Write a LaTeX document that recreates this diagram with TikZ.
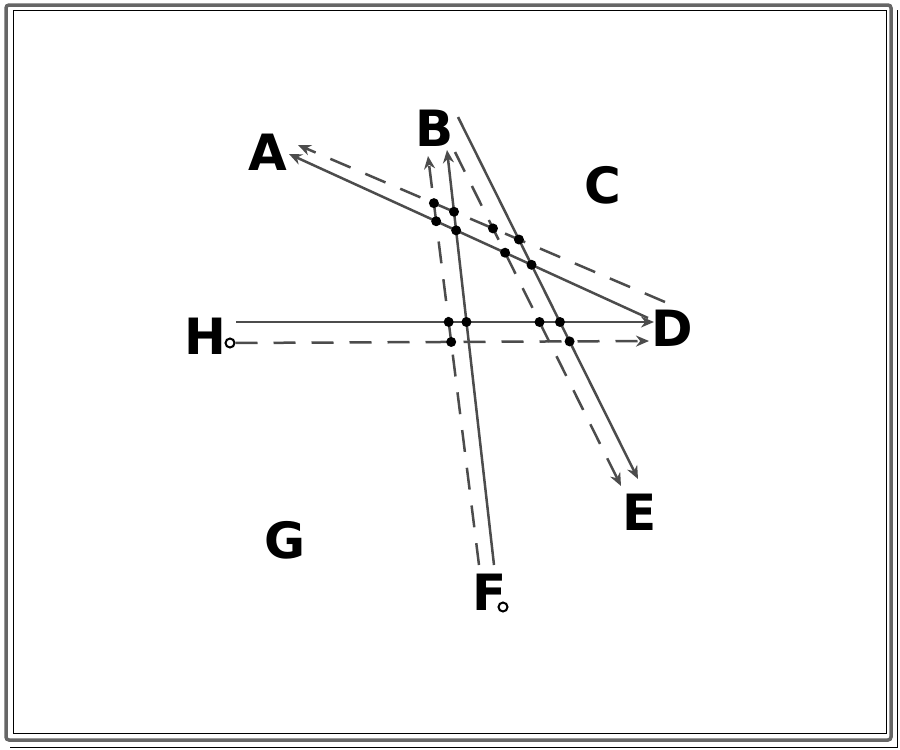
\documentclass[tikz,border=0pt]{standalone}
\usepackage{fontspec}
\setmainfont{DejaVu Sans}
\usetikzlibrary{arrows.meta}
\begin{document}
\begin{tikzpicture}[x=1pt,y=-1pt,
    lane/.style={line width=2.5pt,black!70,-{Stealth[length=13pt,width=11pt]}},
    lanedash/.style={lane,dash pattern=on 22pt off 16pt},
    dot/.style={circle,fill=black,inner sep=0pt,minimum size=10pt},
    ring/.style={circle,draw=black,fill=white,line width=2pt,inner sep=0pt,minimum size=9pt},
    lbl/.style={font=\fontsize{50}{50}\selectfont\bfseries,inner sep=0pt}]
    \useasboundingbox (0,0) rectangle (900,750);

    % frame
    \draw[line width=3.5pt,black!60,rounded corners=3pt] (6,5) rectangle (891,740);
    \draw[line width=1pt] (13,10) rectangle (886,733);
    \draw[line width=1pt] (897,10) -- (897,747) -- (10,747);

    % labels
    \node[lbl] (A) at (268,152) {A};
    \node[lbl] (B) at (435,128) {B};
    \node[lbl] (C) at (603,185) {C};
    \node[lbl] (D) at (672,328) {D};
    \node[lbl] (E) at (640,512) {E};
    \node[lbl] (F) at (490,592) {F};
    \node[lbl] (G) at (285,540) {G};
    \node[lbl] (H) at (205,336) {H};

    % lane ends
    \coordinate (hs) at (236,322);  \coordinate (dS) at (654,322);
    \node[ring] (hR) at (230,343) {}; \coordinate (dD) at (649,341);
    \coordinate (fS) at (494,565);  \coordinate (bS) at (447,150);
    \coordinate (fD) at (479,565);  \coordinate (bD) at (428,156);
    \coordinate (bE) at (458,117);  \coordinate (eS) at (638,479);
    \coordinate (bE2) at (455,152); \coordinate (eD) at (621,486);
    \coordinate (dA) at (648,318);  \coordinate (aS) at (289,154);
    \coordinate (dA2) at (665,302); \coordinate (aD) at (298,145);
    \node[ring] (fR) at (503,607) {};

    \draw[lane] (hs) -- (dS);
    \draw[lanedash] (hR) -- (dD);
    \draw[lane] (fS) -- (bS);
    \draw[lanedash] (fD) -- (bD);
    \draw[lane] (bE) -- (eS);
    \draw[lanedash] (bE2) -- (eD);
    \draw[lane] (dA) -- (aS);
    \draw[lanedash] (dA2) -- (aD);

    % crossing dots
    \node[dot] (x1) at (intersection of hs--dS and fD--bD) {};
    \node[dot] (x2) at (intersection of hs--dS and fS--bS) {};
    \node[dot] (x3) at (intersection of hs--dS and bE2--eD) {};
    \node[dot] (x4) at (intersection of hs--dS and bE--eS) {};
    \node[dot] (x5) at (intersection of hR--dD and fD--bD) {};
    \node[dot] (x6) at (intersection of hR--dD and bE--eS) {};
    \node[dot] (x7) at (intersection of dA--aS and fD--bD) {};
    \node[dot] (x8) at (intersection of dA--aS and fS--bS) {};
    \node[dot] (x9) at (intersection of dA--aS and bE2--eD) {};
    \node[dot] (x10) at (intersection of dA--aS and bE--eS) {};
    \node[dot] (x11) at (intersection of dA2--aD and bE2--eD) {};
    \node[dot] (x12) at (intersection of dA2--aD and bE--eS) {};
    \node[dot] (x13) at (intersection of dA2--aD and fS--bS) {};
    \node[dot] (x14) at (intersection of dA2--aD and fD--bD) {};
\end{tikzpicture}
\end{document}
